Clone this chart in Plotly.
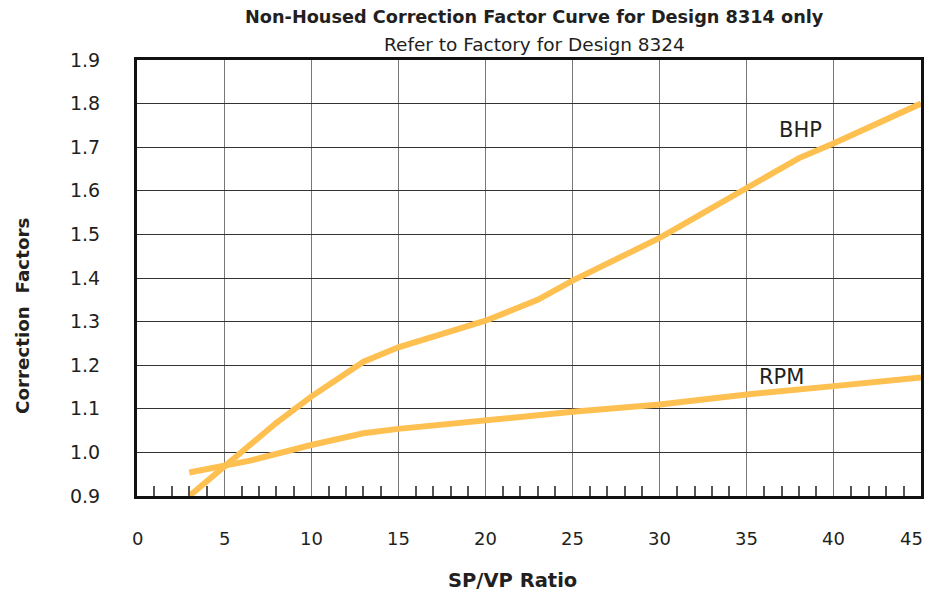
import plotly.graph_objects as go

# ---- data ----
bhp_x = [3, 5, 8, 10, 11.5, 13, 15, 20, 23, 25, 30, 35, 38, 40, 45]
bhp_y = [0.90, 0.969, 1.068, 1.128, 1.168, 1.208, 1.241, 1.302, 1.350, 1.394, 1.492, 1.607, 1.675, 1.709, 1.800]

rpm_x = [3, 5, 6.5, 10, 11.5, 13, 15, 20, 23, 25, 30, 35, 40, 45]
rpm_y = [0.954, 0.971, 0.981, 1.017, 1.031, 1.044, 1.054, 1.074, 1.084, 1.093, 1.110, 1.133, 1.152, 1.172]

x_ticks = [0, 5, 10, 15, 20, 25, 30, 35, 40, 45]
y_ticks = [0.9, 1.0, 1.1, 1.2, 1.3, 1.4, 1.5, 1.6, 1.7, 1.8, 1.9]

title_main = "Non-Housed Correction Factor Curve for Design 8314 only"
title_sub = "Refer to Factory for Design 8324"
x_title = "SP/VP Ratio"
y_title = "Correction  Factors"
series_labels = {"BHP": (38.1, 1.739), "RPM": (37.0, 1.174)}

LINE = "rgb(255,192,82)"
FONT = "DejaVu Sans, Verdana, sans-serif"
TXT = "#231f20"

W, H = 926, 592
ML, MR, MT, MB = 137, 5, 60, 96
plot_w = W - ML - MR
plot_h = H - MT - MB


def px_x(px):
    return (px - ML) / plot_w


def px_y(py):
    return (H - MB - py) / plot_h


fig = go.Figure()
fig.add_trace(go.Scatter(x=bhp_x, y=bhp_y, mode="lines", name="BHP",
                         line=dict(color=LINE, width=6)))
fig.add_trace(go.Scatter(x=rpm_x, y=rpm_y, mode="lines", name="RPM",
                         line=dict(color=LINE, width=6)))

annotations = []
for name, (ax, ay) in series_labels.items():
    annotations.append(dict(x=ax, y=ay, xref="x", yref="y", text=name, showarrow=False,
                            xanchor="center", yanchor="middle",
                            font=dict(family=FONT, size=21, color=TXT)))
for v in x_ticks:
    annotations.append(dict(x=v, y=0, xref="x", yref="paper", text=str(v), showarrow=False,
                            xanchor="center", yanchor="middle",
                            yshift=-42, xshift=(-10 if v == 45 else 0),
                            font=dict(family=FONT, size=18, color=TXT)))
annotations.append(dict(x=px_x(534), y=px_y(17), xref="paper", yref="paper",
                        text="<b>" + title_main + "</b>", showarrow=False,
                        xanchor="center", yanchor="middle",
                        font=dict(family=FONT, size=17.7, color=TXT)))
annotations.append(dict(x=px_x(534), y=px_y(44), xref="paper", yref="paper",
                        text=title_sub, showarrow=False,
                        xanchor="center", yanchor="middle",
                        font=dict(family=FONT, size=18.5, color=TXT)))
annotations.append(dict(x=px_x(512), y=px_y(580), xref="paper", yref="paper",
                        text="<b>" + x_title + "</b>", showarrow=False,
                        xanchor="center", yanchor="middle",
                        font=dict(family=FONT, size=19.5, color=TXT)))
annotations.append(dict(x=px_x(22), y=px_y(316), xref="paper", yref="paper",
                        text="<b>" + y_title.replace("  ", "&nbsp; ") + "</b>", showarrow=False,
                        textangle=-90, xanchor="center", yanchor="middle",
                        font=dict(family=FONT, size=18.3, color=TXT)))

fig.update_layout(
    width=W, height=H,
    margin=dict(l=ML, r=MR, t=MT, b=MB, autoexpand=False),
    paper_bgcolor="white", plot_bgcolor="white",
    showlegend=False,
    font=dict(family=FONT, color=TXT),
    annotations=annotations,
)

fig.update_xaxes(
    range=[0, 45], tick0=0, dtick=5, showticklabels=False, ticks="",
    showgrid=True, gridcolor="#777", gridwidth=1.2,
    showline=True, linecolor="#111", linewidth=3, mirror=True,
    zeroline=False,
    minor=dict(dtick=1, tick0=0, ticks="inside", ticklen=10, tickcolor="#555",
               tickwidth=1.5, showgrid=False),
)
fig.update_yaxes(
    range=[0.9, 1.9], tickvals=y_ticks, ticktext=[f"{v:.1f}" for v in y_ticks],
    ticks="", ticklabelstandoff=30,
    tickfont=dict(family=FONT, size=19, color=TXT),
    showgrid=True, gridcolor="#333", gridwidth=1.2,
    showline=True, linecolor="#111", linewidth=3, mirror=True,
    zeroline=False,
)

fig.write_html("out.html", config={"displayModeBar": False},
               post_script="document.body.style.margin='0px';")
